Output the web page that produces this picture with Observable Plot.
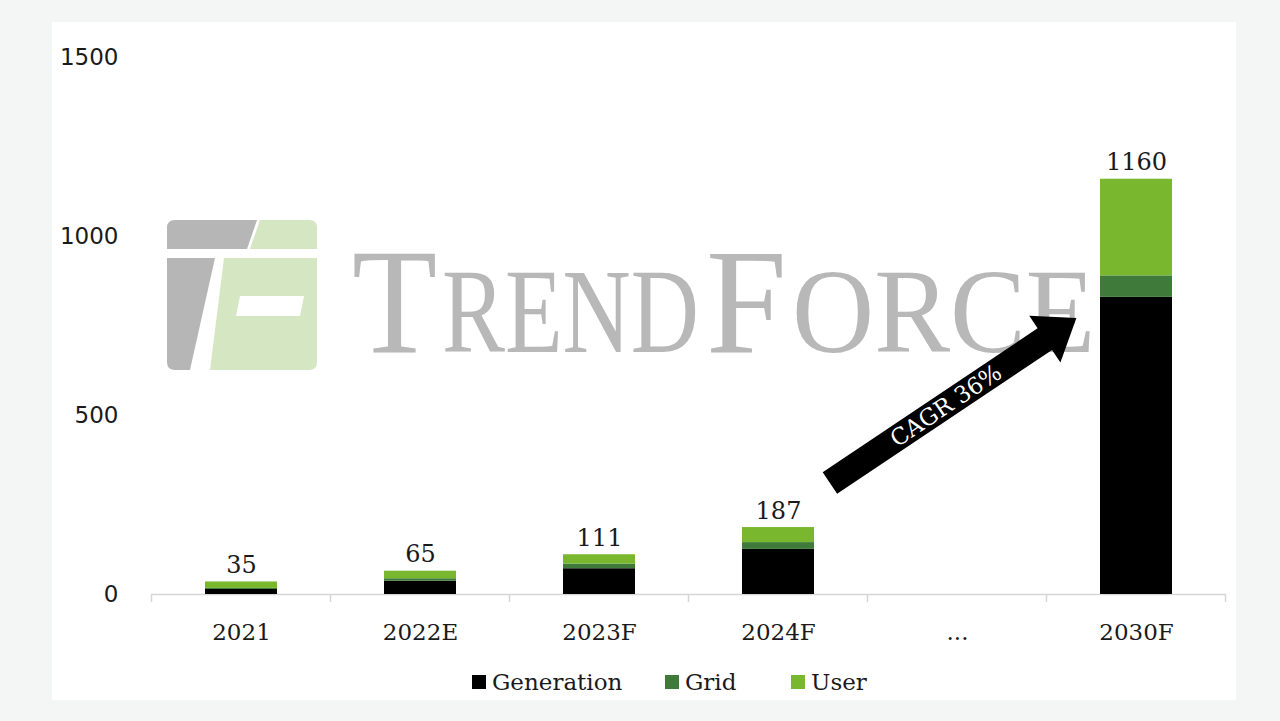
<!DOCTYPE html>
<html>
<head>
<meta charset="utf-8">
<script src="https://cdn.jsdelivr.net/npm/d3@7"></script>
<script src="https://cdn.jsdelivr.net/npm/@observablehq/plot@0.6"></script>
<style>
  body { margin: 0; background: #f4f6f6; }
  #wrap { position: relative; width: 1280px; height: 721px; overflow: hidden; }
  #panel { position: absolute; left: 52px; top: 22px; width: 1184px; height: 678px; background: #ffffff; }
  #wm { position: absolute; left: 0; top: 0; }
  #chart { position: absolute; left: 0; top: 0; }
  #legend { position: absolute; left: 0; top: 667px; width: 1280px; height: 30px; font-family: "DejaVu Serif", serif; font-size: 23px; color: #1a1a1a; }
  .item { position: absolute; top: 0; height: 30px; display: flex; align-items: center; }
  .sw { width: 14px; height: 14px; margin-right: 6px; }
</style>
</head>
<body>
<div id="wrap">
  <div id="panel"></div>
  <svg id="wm" width="1280" height="721" viewBox="0 0 1280 721">
    <path d="M167,228 Q167,220 175,220 L257,220 L247,249 L167,249 Z" fill="#b6b6b6"/>
    <path d="M260,220 L309,220 Q317,220 317,228 L317,249 L250,249 Z" fill="#d5e6c2"/>
    <path d="M167,258 L215,258 L190,370 L175,370 Q167,370 167,362 Z" fill="#b6b6b6"/>
    <path d="M224,258 L317,258 L317,362 Q317,370 309,370 L210,370 Z" fill="#d5e6c2"/>
    <path d="M240,296 L304,296 L300,316 L236,316 Z" fill="#ffffff"/>
    <g fill="#b8b8b8" font-family="Liberation Serif, serif">
      <text transform="translate(352,352) scale(0.93,1)" font-size="150">T</text>
      <text transform="translate(442,352) scale(0.78,1)" font-size="121">REND</text>
      <text transform="translate(706,352) scale(0.97,1)" font-size="150">F</text>
      <text transform="translate(792,352) scale(0.94,1)" font-size="121">ORCE</text>
    </g>
  </svg>
  <div id="chart"></div>
  <div id="legend"></div>
</div>
<script>
// ---- data ----
const categories = ["2021", "2022E", "2023F", "2024F", "...", "2030F"];
const seriesNames = ["Generation", "Grid", "User"];
const generation = [14, 37, 72, 126, null, 830];
const grid       = [3, 7, 13, 19, null, 60];
const user       = [18, 21, 26, 42, null, 270];
const totals     = [35, 65, 111, 187, null, 1160];
const colors     = ["#000000", "#3f7a3b", "#78b72e"];
const yTicks     = [0, 500, 1000, 1500];
const cagrLabel  = "CAGR 36%";

// rows for the stacked bars
const seriesValues = [generation, grid, user];
const rows = [];
categories.forEach((c, i) => {
  seriesNames.forEach((s, k) => {
    const v = seriesValues[k][i];
    if (v != null) rows.push({cat: c, series: s, value: v});
  });
});
const totalRows = categories.map((c, i) => ({cat: c, total: totals[i]})).filter(d => d.total != null);

const W = 1280, H = 660;
const plot = Plot.plot({
  width: W,
  height: H,
  marginLeft: 151,
  marginRight: 54,
  marginTop: 57,
  marginBottom: 66,
  style: {background: "transparent", color: "#1a1a1a", fontFamily: "DejaVu Serif, serif"},
  x: {domain: categories, paddingInner: 0.6, paddingOuter: 0.3, align: 0.5, label: null},
  y: {domain: [0, 1500], label: null},
  color: {domain: seriesNames, range: colors},
  marks: [
    Plot.ruleY([0], {stroke: "#d6d6d6", strokeWidth: 1.5}),
    Plot.barY(rows, {x: "cat", y: "value", fill: "series"}),
    Plot.text(totalRows, {x: "cat", y: "total", text: d => String(d.total), dy: -9, lineAnchor: "bottom", fontSize: 24, fontFamily: "DejaVu Serif, serif", fill: "#1a1a1a"}),
    Plot.axisY({ticks: yTicks, tickSize: 0, tickPadding: 33, fontSize: 23, fontFamily: "DejaVu Sans, sans-serif", label: null, tickFormat: d => String(d)}),
    Plot.axisX({tickSize: 0, tickPadding: 29, fontSize: 23, fontFamily: "DejaVu Serif, serif", label: null})
  ]
});
document.getElementById("chart").appendChild(plot);

// ---- boundary ticks and CAGR arrow drawn from the scales ----
const xs = plot.scale("x"), ys = plot.scale("y");
const bw = xs.bandwidth;
const x0 = xs.apply(categories[0]) + bw / 2;
const step = xs.apply(categories[1]) - xs.apply(categories[0]);
const pos = i => x0 + i * step;
const svg = d3.select(plot);
const y0 = ys.apply(0);
const tg = svg.append("g").attr("stroke", "#d6d6d6").attr("stroke-width", 1.5);
for (let i = 0; i <= categories.length; i++) {
  const bx = pos(i - 0.5);
  tg.append("line").attr("x1", bx).attr("x2", bx).attr("y1", y0).attr("y2", y0 + 8);
}

// arrow from between 2024F and "..." up to the 2030F bar
const tail = [pos(3.29), ys.apply(310)];
const tip  = [pos(4.667), ys.apply(771)];
const dx = tip[0] - tail[0], dy = tip[1] - tail[1];
const len = Math.hypot(dx, dy);
const u = [dx / len, dy / len], n = [-u[1], u[0]];
const w = 13, hw = 28, hl = 38;
const B = [tip[0] - u[0] * hl, tip[1] - u[1] * hl];
const P = (p, k) => [p[0] + n[0] * k, p[1] + n[1] * k];
const pts = [P(tail, w), P(B, w), P(B, hw), tip, P(B, -hw), P(B, -w), P(tail, -w)];
svg.append("polygon").attr("points", pts.map(p => p.join(",")).join(" ")).attr("fill", "#000");
const ang = Math.atan2(dy, dx) * 180 / Math.PI;
const mid = [tail[0] + dx * 0.47, tail[1] + dy * 0.47];
svg.append("text")
  .attr("transform", `translate(${mid[0]},${mid[1]}) rotate(${ang})`)
  .attr("text-anchor", "middle").attr("dominant-baseline", "central")
  .attr("fill", "#fff").attr("font-family", "DejaVu Serif, serif").attr("font-size", 23)
  .text(cagrLabel);

// ---- legend ----
const legendLeft = [472, 665, 791];
const lg = document.getElementById("legend");
seriesNames.forEach((s, k) => {
  const it = document.createElement("div");
  it.className = "item";
  it.style.left = legendLeft[k] + "px";
  const sw = document.createElement("div");
  sw.className = "sw";
  sw.style.background = colors[k];
  const t = document.createElement("span");
  t.textContent = s;
  it.appendChild(sw); it.appendChild(t);
  lg.appendChild(it);
});
</script>
</body>
</html>
